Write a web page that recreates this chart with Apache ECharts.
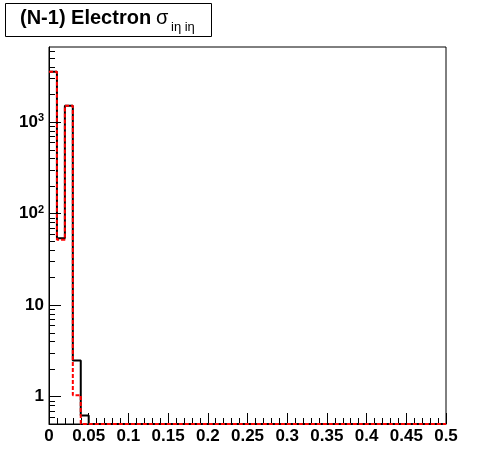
<!DOCTYPE html>
<html><head><meta charset="utf-8">
<script src="https://cdn.jsdelivr.net/npm/echarts@6/dist/echarts.min.js"></script>
<style>html,body{margin:0;padding:0;background:#fff}#c{width:496px;height:472px}</style>
</head><body><div id="c"></div>
<script>
// ---- data ----
const xMin = 0, xMax = 0.5, binWidth = 0.01;
const yMin = 0.5, yMax = 6600;
const blackCounts = [3540, 53.5, 1506, 2.47, 0.62, 0, 0, 0, 0, 0,
  0, 0, 0, 0, 0, 0, 0, 0, 0, 0,
  0, 0, 0, 0, 0, 0, 0, 0, 0, 0,
  0, 0, 0, 0, 0, 0, 0, 0, 0, 0,
  0, 0, 0, 0, 0, 0, 0, 0, 0, 0];
const redCounts = [3540, 51.7, 1506, 1.03, 0, 0, 0, 0, 0, 0,
  0, 0, 0, 0, 0, 0, 0, 0, 0, 0,
  0, 0, 0, 0, 0, 0, 0, 0, 0, 0,
  0, 0, 0, 0, 0, 0, 0, 0, 0, 0,
  0, 0, 0, 0, 0, 0, 0, 0, 0, 0];
const yMajorTicks = [1, 10, 100, 1000];
const yMinorTicks = [0.6, 0.7, 0.8, 0.9, 2, 3, 4, 5, 6, 7, 8, 9,
  20, 30, 40, 50, 60, 70, 80, 90, 200, 300, 400, 500, 600, 700, 800, 900,
  2000, 3000, 4000, 5000, 6000];

// ---- build histogram step points ----
function histPoints(counts) {
  const pts = counts.map((c, i) => [xMin + i * binWidth, c > yMin ? c : yMin]);
  const last = counts[counts.length - 1];
  pts.push([xMin + counts.length * binWidth, last > yMin ? last : yMin]);
  return pts;
}
function tickSeries(values, len) {
  return {
    type: 'custom', silent: true, z: 5, clip: false,
    data: values.map(v => [xMin, v]),
    renderItem: (params, api) => {
      const p = api.coord([api.value(0), api.value(1)]);
      const y = Math.round(p[1]) + 0.5;
      const x = Math.round(p[0]);
      return { type: 'line', shape: { x1: x, y1: y, x2: x + len, y2: y },
        style: { stroke: '#000', lineWidth: 1 } };
    }
  };
}

const FONT = '"Liberation Sans", Arial, Helvetica, sans-serif';
const chart = echarts.init(document.getElementById('c'), null, { renderer: 'canvas' });
chart.setOption({
  backgroundColor: '#fff',
  animation: false,
  grid: { left: 49, right: 50, top: 47, bottom: 48, show: true, borderColor: '#000', borderWidth: 1, backgroundColor: 'transparent' },
  xAxis: {
    type: 'value', min: xMin, max: xMax, interval: 0.05,
    axisLine: { lineStyle: { color: '#000', width: 1 } },
    axisTick: { inside: true, length: 11, lineStyle: { color: '#000' } },
    minorTick: { show: true, splitNumber: 5, length: 6, lineStyle: { color: '#000' } },
    splitLine: { show: false },
    axisLabel: { color: '#000', fontFamily: FONT, fontWeight: 'bold', fontSize: 17, margin: 4,
      formatter: v => String(+v.toFixed(2)) }
  },
  yAxis: {
    type: 'log', logBase: 10, min: yMin, max: yMax,
    axisLine: { lineStyle: { color: '#000', width: 1 } },
    axisTick: { show: false },
    splitLine: { show: false },
    axisLabel: {
      color: '#000', fontFamily: FONT, fontWeight: 'bold', fontSize: 17, margin: 5,
      formatter: v => {
        const l = Math.log10(v); const r = Math.round(l);
        if (Math.abs(l - r) > 1e-6) return '';
        if (r === 0) return '1';
        if (r === 1) return '10';
        return '10{sup|' + r + '}';
      },
      rich: { sup: { fontSize: 11, fontWeight: 'bold', fontFamily: FONT, color: '#000', verticalAlign: 'top', padding: [0, 0, 8, 0] } }
    }
  },
  graphic: [
    { type: 'rect', shape: { x: 5.5, y: 3.5, width: 206, height: 33 }, style: { fill: '#fff', stroke: '#000', lineWidth: 1 }, z: 10 },
    { type: 'text', x: 20, y: 18, z: 11, style: { text: '(N-1) Electron ', font: 'bold 20px ' + FONT, fill: '#000', verticalAlign: 'middle' } },
    { type: 'text', x: 156, y: 18, z: 11, style: { text: 'σ', font: '20px ' + FONT, fill: '#000', verticalAlign: 'middle' } },
    { type: 'text', x: 171, y: 27, z: 11, style: { text: 'iη iη', font: '13px ' + FONT, fill: '#000', verticalAlign: 'middle' } }
  ],
  series: [
    { type: 'line', step: 'end', data: histPoints(blackCounts), symbol: 'none', z: 3,
      lineStyle: { color: '#000', width: 2 } },
    { type: 'line', step: 'end', data: histPoints(redCounts), symbol: 'none', z: 4,
      lineStyle: { color: '#ff0000', width: 2, type: [4, 2] } },
    tickSeries(yMajorTicks, 12),
    tickSeries(yMinorTicks, 6)
  ]
});
</script></body></html>
